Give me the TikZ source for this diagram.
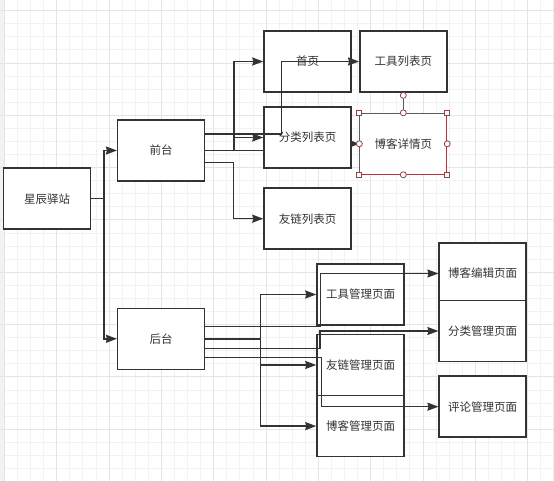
\documentclass[tikz,border=0pt]{standalone}
\usepackage{fontspec}
\newfontfamily\cjk{Noto Sans CJK SC}
\usetikzlibrary{arrows.meta,backgrounds}
\definecolor{ink}{HTML}{333333}
\definecolor{selred}{HTML}{8E4545}
\definecolor{gridmin}{HTML}{F2F2F2}
\definecolor{gridmaj}{HTML}{E4E4E4}
\tikzset{
	page/.style={draw=ink, line width=1.5pt, fill=white, minimum width=87pt, minimum height=61pt, inner sep=0pt, text=ink, font=\cjk\fontsize{11.5}{13}\selectfont},
	link/.style={draw=ink, line width=1.5pt, -{Stealth[length=11pt,width=8pt,inset=1pt]}},
	hsq/.style={draw=selred, fill=white, line width=0.8pt, minimum size=5pt, inner sep=0pt},
	hcirc/.style={draw=selred, fill=white, line width=0.8pt, circle, minimum size=6pt, inner sep=0pt},
}

\begin{document}
\begin{tikzpicture}[x=1pt, y=-1pt]
	\useasboundingbox (0,0) rectangle (554,481);
	% site and its two halves
	\node[page] (xc) at (47.2,198.7) {星辰驿站};
	\node[page] (qt) at (161.2,150.5) {前台};
	\node[page] (ht) at (161.2,338.8) {后台};
	% front pages
	\node[page] (sy) at (307.5,61.5) {首页};
	\node[page] (gj) at (403.3,61.5) {工具列表页};
	\node[page] (fl) at (307.5,137.5) {分类列表页};
	\node[page, draw=selred, line width=0.9pt] (bk) at (403.3,143.8) {博客详情页};
	\node[page] (yl) at (307.5,218.7) {友链列表页};
	% admin pages
	\node[page] (gjgl) at (360.5,294.5) {工具管理页面};
	\node[page] (ylgl) at (360.5,365) {友链管理页面};
	\node[page] (bkgl) at (360.5,426.1) {博客管理页面};
	\node[page] (bjgl) at (482.7,273.5) {博客编辑页面};
	\node[page] (flgl) at (482.7,331) {分类管理页面};
	\node[page] (plgl) at (482.7,406.7) {评论管理页面};

	\begin{scope}[on background layer]
		\fill[gridmin] (0,0) rectangle (4.5,481);
		\foreach \i in {0,...,42} \draw[gridmin, line width=1pt] ({4.5+13.08*\i},0) -- ++(0,481);
		\foreach \j in {0,...,35} \draw[gridmin, line width=1pt] (0,{10.7+13.08*\j}) -- ++(554,0);
		\foreach \i in {0,4,...,40} \draw[gridmaj, line width=1pt] ({4.5+13.08*\i},0) -- ++(0,481);
		\foreach \j in {0,4,...,32} \draw[gridmaj, line width=1pt] (0,{10.7+13.08*\j}) -- ++(554,0);
		% runs behind fl
		\draw[link] (qt.east) -- (300,150.5) |- (bk.west);
	\end{scope}

	\draw[link] (xc.east) -- ++(12.7,0) |- (qt.west);
	\draw[link] (xc.east) -- ++(12.7,0) |- (ht.west);

	\draw[link] (qt.east) -- (234,150.5) |- (sy.west);
	\draw[link] (qt.east) -- (234,150.5) |- (fl.west);
	\draw[link] ([yshift=16.5pt]qt.east) -- (281.7,134) |- (gj.west);
	\draw[link] ([yshift=-12.2pt]qt.east) -- (233.3,162.7) |- (yl.west);

	\draw[link] ([yshift=12.1pt]ht.east) -- (320.7,326.7) |- (bjgl.west);
	\draw[link] (ht.east) -- (260.7,338.8) |- (gjgl.west);
	\draw[link] (ht.east) -- (260.7,338.8) |- (ylgl.west);
	\draw[link] (ht.east) -- (260.7,338.8) |- (bkgl.west);
	\draw[link] ([yshift=-9.5pt]ht.east) -- (320,348.3) |- (flgl.west);
	\draw[link] ([yshift=-18.9pt]ht.east) -- (321.7,357.7) |- (plgl.west);

	% selection handles
	\node[hcirc] (rot) at ([yshift=17.5pt]bk.north) {};
	\draw[selred, line width=0.8pt] (rot) -- (bk.north);
	\foreach \a/\n in {north west/nw, north east/ne, south west/sw, south east/se}
		\node[hsq] (hd\n) at (bk.\a) {};
	\foreach \a/\n in {north/n, south/s, east/e, west/w}
		\node[hcirc] (hd\n) at (bk.\a) {};
\end{tikzpicture}
\end{document}
